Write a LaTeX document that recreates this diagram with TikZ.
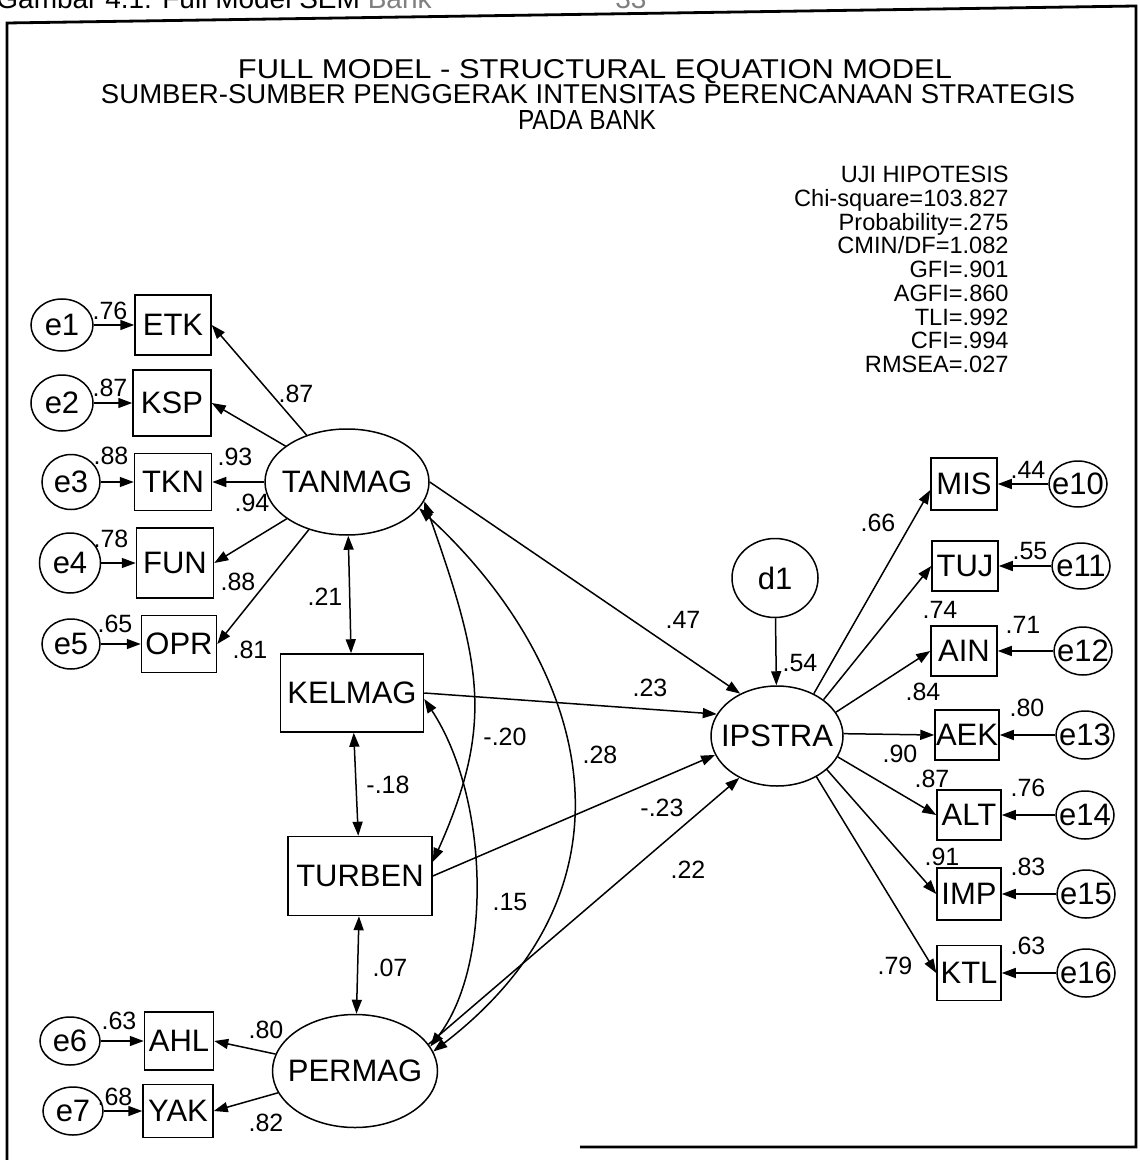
\documentclass[tikz,border=0pt]{standalone}
\usepackage{fontspec}
\setmainfont{Liberation Sans}
\usepackage{graphicx}
\usetikzlibrary{shapes.geometric,arrows.meta}
\newcommand{\nodefnt}{\fontsize{15.5}{16}\selectfont}
\newcommand{\lblfnt}{\fontsize{12.5}{13}\selectfont}
\newcommand{\statfnt}{\fontsize{11.8}{11.85}\selectfont}
\newcommand{\zw}[1]{\makebox[0pt]{#1}}
\begin{document}
\begin{tikzpicture}[x=0.5pt,y=-0.5pt,
  sz/.style 2 args={minimum width={#1*0.5pt}, minimum height={#2*0.5pt}},
  lat/.style={draw, ellipse, inner sep=0pt, line width=0.75pt, font=\nodefnt},
  obs/.style={draw, rectangle, inner sep=0pt, line width=0.75pt, font=\nodefnt},
  lbl/.style={inner sep=0pt, font=\lblfnt},
  ttl/.style={inner sep=0pt, anchor=base},
  arr/.style={-{Triangle[length=7pt,width=5pt]}, line width=0.75pt},
  cov/.style={{Triangle[length=7pt,width=5pt]}-{Triangle[length=7pt,width=5pt]}, line width=0.75pt},
]
\useasboundingbox (0,0) rectangle (1139,1160);

% frame
\draw[line width=1.4pt] (580,1147) -- (1136,1147) -- (1136,6) -- (7,23) -- (7,1160);

% cropped caption at the top
\node[anchor=base west, inner sep=0pt, font=\fontsize{14}{14}\selectfont] (cap) at (-4,9) {Gambar 4.1: Full Model SEM \textcolor{gray}{Bank}};
\node[anchor=base west, inner sep=0pt, font=\fontsize{14}{14}\selectfont, text=gray] (pg) at (615,9) {33};

% title
\node[ttl] (t1) at (595,79) {\resizebox{357pt}{9.5pt}{FULL MODEL - STRUCTURAL EQUATION MODEL}};
\node[ttl] (t2) at (588,104) {\resizebox{487pt}{9.5pt}{SUMBER-SUMBER PENGGERAK INTENSITAS PERENCANAAN STRATEGIS}};
\node[ttl] (t3) at (587,130) {\resizebox{69pt}{9.5pt}{PADA BANK}};

% fit statistics
\node[anchor=north east, align=right, inner sep=0pt, font=\statfnt] (stats) at (1009,166)
  {UJI HIPOTESIS\\Chi-square=103.827\\Probability=.275\\CMIN/DF=1.082\\GFI=.901\\AGFI=.860\\TLI=.992\\CFI=.994\\RMSEA=.027};

% left measurement block
\node[lat,sz={62}{52}] (e1) at (62,325) {\zw{e1}};
\node[obs,sz={76}{60}] (ETK) at (173,325) {ETK};
\node[lat,sz={62}{56}] (e2) at (62,403) {\zw{e2}};
\node[obs,sz={78}{66}] (KSP) at (172,403) {KSP};
\node[lat,sz={58}{55}] (e3) at (71,482) {\zw{e3}};
\node[obs,sz={77}{57}] (TKN) at (173,482) {TKN};
\node[lat,sz={61}{60}] (e4) at (70,563) {\zw{e4}};
\node[obs,sz={77}{70}] (FUN) at (175,563) {FUN};
\node[lat,sz={58}{50}] (e5) at (71,644) {\zw{e5}};
\node[obs,sz={75}{57}] (OPR) at (179,644) {OPR};

\node[lat,sz={164}{106}] (TANMAG) at (347,482) {\zw{TANMAG}};
\node[obs,sz={143}{78}] (KELMAG) at (352,693) {KELMAG};
\node[obs,sz={144}{79}] (TURBEN) at (360,876) {TURBEN};
\node[lat,sz={165}{113}] (PERMAG) at (355,1071) {\zw{PERMAG}};

\node[lat,sz={60}{48}] (e6) at (70,1041) {\zw{e6}};
\node[obs,sz={69}{58}] (AHL) at (179,1041) {AHL};
\node[lat,sz={60}{48}] (e7) at (73,1111) {\zw{e7}};
\node[obs,sz={70}{53}] (YAK) at (178,1111) {YAK};

% right block
\node[lat,sz={86}{79}] (d1) at (775,578) {\zw{d1}};
\node[lat,sz={132}{100}] (IPSTRA) at (777,736) {\zw{IPSTRA}};

\node[obs,sz={66}{52}] (MIS) at (964,484) {MIS};
\node[obs,sz={66}{50}] (TUJ) at (965,566) {TUJ};
\node[obs,sz={66}{50}] (AIN) at (964,651) {AIN};
\node[obs,sz={64}{50}] (AEK) at (967,735) {AEK};
\node[obs,sz={64}{50}] (ALT) at (969,815) {ALT};
\node[obs,sz={64}{52}] (IMP) at (969,894) {IMP};
\node[obs,sz={64}{55}] (KTL) at (969,973) {KTL};

\node[lat,sz={58}{46}] (e10) at (1078,484) {\zw{e10}};
\node[lat,sz={58}{46}] (e11) at (1081,566) {\zw{e11}};
\node[lat,sz={58}{48}] (e12) at (1083,651) {\zw{e12}};
\node[lat,sz={58}{48}] (e13) at (1085,735) {\zw{e13}};
\node[lat,sz={58}{48}] (e14) at (1085,815) {\zw{e14}};
\node[lat,sz={58}{48}] (e15) at (1086,894) {\zw{e15}};
\node[lat,sz={58}{48}] (e16) at (1086,973) {\zw{e16}};

% connectors: left
\draw[arr] (e1) -- (ETK);
\draw[arr] (e2) -- (KSP);
\draw[arr] (e3) -- (TKN);
\draw[arr] (e4) -- (FUN);
\draw[arr] (e5) -- (OPR);
\draw[arr] (TANMAG) -- (ETK.east);
\draw[arr] (TANMAG) -- (KSP.east);
\draw[arr] (TANMAG) -- (TKN.east);
\draw[arr] (TANMAG) -- (FUN.east);
\draw[arr] (TANMAG) -- (OPR.east);
\draw[arr] (e6) -- (AHL);
\draw[arr] (e7) -- (YAK);
\draw[arr] (PERMAG) -- (AHL.east);
\draw[arr] (PERMAG) -- (YAK.east);

% covariances
\draw[cov] (TANMAG) -- (KELMAG);
\draw[cov] (KELMAG) -- (TURBEN);
\draw[cov] (TURBEN) -- (PERMAG);
\coordinate (tbE) at ([yshift=7pt]TURBEN.east);
\coordinate (kmE) at ([yshift=-3pt]KELMAG.east);
\draw[cov] (TANMAG.-14) .. controls (481,662) and (495,723) .. (tbE);
\draw[cov] (TANMAG.-20) .. controls (588,664) and (651,884) .. (PERMAG.14);
\draw[cov] (kmE) .. controls (489,797) and (493,965) .. (PERMAG.18);

% structural paths
\draw[arr] (TANMAG.east) -- (IPSTRA.131);
\draw[arr] (KELMAG.east) -- (IPSTRA.160);
\draw[arr] (TURBEN.east) -- (IPSTRA.197);
\draw[arr] (PERMAG.20) -- (IPSTRA.228);
\draw[arr] (d1) -- (IPSTRA);

% right connectors
\draw[arr] (IPSTRA.49) -- ([yshift=-3pt]MIS.west);
\draw[arr] (IPSTRA.38) -- (TUJ.west);
\draw[arr] (IPSTRA.22) -- (AIN.west);
\draw[arr] (IPSTRA.2) -- (AEK.west);
\draw[arr] (IPSTRA.-19) -- (ALT.west);
\draw[arr] (IPSTRA.-34) -- (IMP.west);
\draw[arr] (IPSTRA.-46) -- (KTL.west);
\draw[arr] (e10) -- (MIS);
\draw[arr] (e11) -- (TUJ);
\draw[arr] (e12) -- (AIN);
\draw[arr] (e13) -- (AEK);
\draw[arr] (e14) -- (ALT);
\draw[arr] (e15) -- (IMP);
\draw[arr] (e16) -- (KTL);

% labels: left
\node[lbl] (l1) at (110,311) {.76};
\node[lbl] (l2) at (110,388) {.87};
\node[lbl] (l3) at (111,456) {.88};
\node[lbl] (l4) at (111,539) {.78};
\node[lbl] (l5) at (115,624) {.65};
\node[lbl] (l6) at (296,394) {.87};
\node[lbl] (l7) at (235,457) {.93};
\node[lbl] (l8) at (252,503) {.94};
\node[lbl] (l9) at (238,582) {.88};
\node[lbl] (l10) at (250,650) {.81};
\node[lbl] (l11) at (325,597) {.21};
\node[lbl] (l12) at (119,1021) {.63};
\node[lbl] (l13) at (115,1097) {.68};
\node[lbl] (l14) at (266,1030) {.80};
\node[lbl] (l15) at (266,1123) {.82};
% labels: centre
\node[lbl] (l16) at (683,620) {.47};
\node[lbl] (l17) at (650,688) {.23};
\node[lbl] (l18) at (505,737) {-.20};
\node[lbl] (l19) at (600,755) {.28};
\node[lbl] (l20) at (388,785) {-.18};
\node[lbl] (l21) at (662,808) {-.23};
\node[lbl] (l22) at (688,870) {.22};
\node[lbl] (l23) at (510,902) {.15};
\node[lbl] (l24) at (390,968) {.07};
\node[lbl] (l25) at (800,663) {.54};
% labels: right
\node[lbl] (l26) at (878,523) {.66};
\node[lbl] (l27) at (940,610) {.74};
\node[lbl] (l28) at (923,692) {.84};
\node[lbl] (l29) at (900,754) {.90};
\node[lbl] (l30) at (932,779) {.87};
\node[lbl] (l31) at (942,857) {.91};
\node[lbl] (l32) at (895,966) {.79};
\node[lbl] (l33) at (1028,470) {.44};
\node[lbl] (l34) at (1030,551) {.55};
\node[lbl] (l35) at (1023,625) {.71};
\node[lbl] (l36) at (1027,708) {.80};
\node[lbl] (l37) at (1028,788) {.76};
\node[lbl] (l38) at (1028,867) {.83};
\node[lbl] (l39) at (1028,946) {.63};
\end{tikzpicture}
\end{document}
